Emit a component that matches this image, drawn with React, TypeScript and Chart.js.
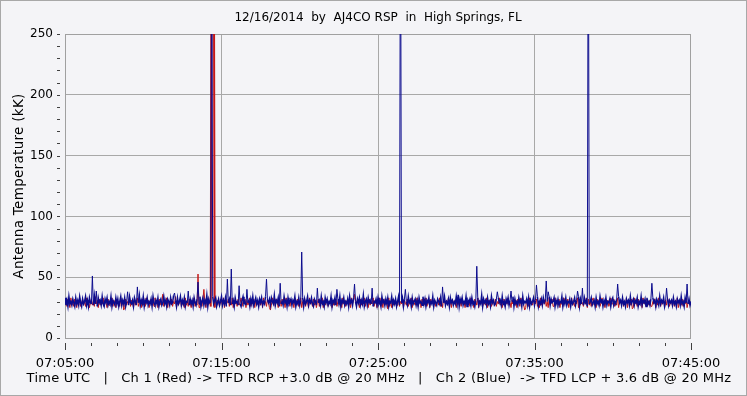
import React, { useEffect, useRef } from 'react';
import { Chart, registerables } from 'chart.js';

Chart.register(...registerables);

const TITLE = '12/16/2014  by  AJ4CO RSP  in  High Springs, FL';
const Y_LABEL = 'Antenna Temperature (kK)';
const X_LABEL = 'Time UTC   |   Ch 1 (Red) -> TFD RCP +3.0 dB @ 20 MHz   |   Ch 2 (Blue)  -> TFD LCP + 3.6 dB @ 20 MHz';

const X_MAX = 2400; // seconds after 07:05:00
const SAMPLE_STEP = 3.75; // seconds between samples
const Y_MAX = 250;
const xTickLabels = ['07:05:00', '07:15:00', '07:25:00', '07:35:00', '07:45:00'];
const yTickLabels = ['0', '50', '100', '150', '200', '250'];

// Ch 2 (Blue) baseline samples
const blueBase = [
  33,27,31,26,34,28,30,27,32,29,26,33,28,31,27,34,29,26,32,28,
  30,34,27,31,26,33,29,28,32,27,35,28,30,26,33,29,31,27,34,28,
  26,32,29,33,27,30,28,34,26,31,29,27,33,28,32,26,30,34,27,31,
  28,33,26,30,32,27,34,29,28,31,26,33,30,27,32,29,35,27,31,28,
  34,26,31,29,33,27,30,28,32,26,34,29,27,31,28,33,26,30,32,27,
  29,34,28,31,26,32,30,27,33,28,29,35,27,31,26,33,28,30,34,27,
  31,28,33,26,30,29,34,27,32,28,31,26,33,29,27,32,30,28,34,26,
  30,33,27,31,28,35,26,32,29,30,27,34,28,31,33,26,29,32,27,30,
  34,27,31,28,33,26,30,29,32,27,35,28,31,26,33,29,30,27,32,28,
  26,31,34,28,30,27,33,29,31,26,32,28,34,27,30,33,28,31,26,32,
  29,33,27,30,28,34,26,31,29,32,27,33,30,28,35,27,31,29,33,26,
  32,28,30,27,34,29,31,26,33,28,30,32,27,31,29,34,26,30,28,33,
  27,31,29,33,26,32,28,30,34,27,31,29,33,28,26,32,30,27,35,29,
  31,27,34,28,30,26,33,29,32,27,30,28,34,26,31,29,33,27,30,32,
  28,34,26,31,29,33,27,30,28,32,26,34,29,31,27,33,28,30,26,32,
  29,33,27,31,28,35,26,30,32,27,33,29,31,28,34,26,30,29,32,27,
  33,28,30,26,34,29,31,27,32,28,33,26,30,29,34,27,31,28,32,26,
  30,34,27,31,29,33,26,32,28,30,27,34,29,31,26,33,28,30,32,27,
  31,26,33,29,30,27,34,28,32,26,31,29,33,27,30,28,34,26,31,29,
  27,32,30,28,33,26,31,29,34,27,30,28,32,26,33,29,31,27,30,28,
  34,28,31,26,32,29,33,27,30,28,34,26,31,29,32,27,33,28,30,26,
  31,29,33,27,30,28,34,26,32,29,31,27,33,28,30,26,34,29,31,27,
  28,32,26,33,29,31,27,34,28,30,26,32,29,33,27,31,28,30,34,26,
  32,28,30,27,33,29,31,26,34,28,30,29,32,27,33,26,31,28,30,33,
  27,31,29,34,26,30,28,32,27,33,29,31,26,30,28,34,27,32,29,30,
  33,26,31,28,32,27,30,29,34,26,31,28,33,27,30,29,32,26,31,28,
  30,33,27,31,29,34,26,32,28,30,27,33,29,31,26,32,28,30,33,27,
  29,31,26,33,28,30,27,34,29,32,26,31,28,33,27,30,29,32,26,31,
  33,27,30,28,32,26,34,29,31,27,33,28,30,26,32,29,31,27,34,28,
  30,32,27,31,29,33,26,30,28,34,27,31,29,32,26,33,28,30,27,32,
  28,33,29,31,26,32,30,27,34,28,31,29,33,26,30,28,32,27,31,29,
  31,27,33,28,30,26,32,29,31,27,34,28,30,26,33,29,31,28,32,27,
  30,
];

// Ch 1 (Red) baseline samples
const redBase = [
  28,31,26,32,29,25,33,27,30,26,32,28,25,31,27,33,26,29,32,27,
  30,26,33,28,31,25,29,32,27,30,26,34,28,31,25,32,27,30,28,33,
  26,31,29,25,32,27,30,28,33,26,31,29,25,32,28,30,26,33,27,31,
  29,25,32,27,30,28,34,26,31,29,25,32,27,30,33,26,29,31,25,32,
  27,30,26,33,28,31,25,29,32,27,30,26,33,28,31,25,30,32,27,29,
  32,26,30,28,33,25,31,27,29,32,26,30,28,34,25,31,27,29,32,26,
  28,31,25,33,27,30,26,32,29,25,31,28,33,26,30,27,32,25,29,31,
  26,32,28,30,25,33,27,31,29,26,32,28,30,25,33,27,31,29,26,32,
  30,27,33,25,31,28,29,32,26,30,27,33,25,31,28,30,26,32,27,29,
  33,26,30,28,32,25,31,27,29,33,26,30,28,32,25,31,27,30,26,32,
  27,31,25,33,28,30,26,32,29,25,31,27,33,28,30,26,32,29,25,31,
  31,26,32,28,30,25,33,27,29,31,26,32,28,30,25,33,27,29,32,26,
  28,33,25,30,27,32,26,31,29,25,33,28,30,26,32,27,31,25,29,32,
  26,30,28,33,25,31,27,32,29,26,30,28,33,25,31,27,29,32,26,30,
  32,27,29,25,33,28,31,26,30,32,27,29,25,33,28,31,26,30,27,32,
  29,25,32,27,30,28,33,26,31,29,25,32,27,30,28,33,26,31,29,25,
  31,28,33,26,30,25,32,27,29,31,28,33,26,30,25,32,27,29,31,26,
  27,32,26,30,28,33,25,31,29,27,32,26,30,28,33,25,31,29,27,30,
  33,26,29,31,25,32,28,30,27,33,26,29,31,25,32,28,30,27,31,26,
  28,31,27,33,26,30,25,32,29,28,31,27,33,26,30,25,32,29,28,31,
  25,32,29,27,31,26,33,28,30,25,32,29,27,31,26,33,28,30,25,32,
  30,27,33,25,31,28,32,26,29,30,27,33,25,31,28,32,26,29,31,27,
  32,26,30,28,33,27,29,25,31,32,26,30,28,33,27,29,25,31,28,32,
  27,31,25,32,29,26,33,28,30,27,31,25,32,29,26,33,28,30,27,31,
  31,28,32,26,30,25,33,27,29,31,28,32,26,30,25,33,27,29,32,26,
  26,33,29,31,27,32,25,30,28,26,33,29,31,27,32,25,30,28,33,27,
  29,26,31,28,33,25,32,27,30,29,26,31,28,33,25,32,27,30,26,31,
  33,27,30,25,32,28,31,26,29,33,27,30,25,32,28,31,26,29,33,28,
  28,32,26,30,27,33,25,31,29,28,32,26,30,27,33,25,31,29,27,32,
  31,25,33,28,30,26,32,27,29,31,25,33,28,30,26,32,27,29,31,26,
  26,30,28,32,25,31,27,33,29,26,30,28,32,25,31,27,33,29,26,30,
  30,27,32,26,31,28,33,25,29,30,27,32,26,31,28,33,25,29,30,27,
  29,
];

// spikes: [sample index, value]
const blueSpikes = [
  [28, 51], [32, 38.6], [64, 38], [74, 42], [112, 37], [126, 38.6], [136, 46], [150, 400],
  [166, 48.5], [170, 56.7], [178, 43], [186, 40], [206, 48.5], [220, 45], [242, 70.7],
  [258, 41], [278, 40], [296, 44.4], [314, 41], [343, 400], [348, 40], [386, 42],
  [402, 35.6], [421, 59], [426, 35], [442, 38], [456, 38.6], [482, 43.6], [492, 46.9],
  [494, 38], [524, 38.6], [529, 41], [535, 400], [565, 44.4], [600, 45], [615, 41],
  [636, 44.4],
];
const redSpikes = [
  [100, 36], [136, 52.6], [142, 40], [150, 400], [151, 400], [152, 400], [296, 36],
  [60, 23], [210, 23], [330, 24], [470, 23], [580, 24],
];

function buildSeries(base: number[], spikes: number[][]) {
  const vals = base.slice();
  spikes.forEach(([i, v]) => { vals[i] = v; });
  return vals.map((y, i) => ({ x: i * SAMPLE_STEP, y }));
}

// thinner strokes for isolated spikes, slightly heavier for the noise floor
const segWidth = (noiseWidth: number, burstWidth: number) => (c: any) => {
  const hi = Math.max(c.p0.parsed.y, c.p1.parsed.y);
  if (hi > 300) return burstWidth;
  return hi > 36 ? 1 : noiseWidth;
};

const decor = {
  id: 'decor',
  beforeDraw(chart: any) {
    const { ctx, width, height } = chart;
    ctx.save();
    ctx.fillStyle = '#f4f4f7';
    ctx.fillRect(0, 0, width, height);
    ctx.strokeStyle = '#a8a8a8';
    ctx.lineWidth = 1;
    ctx.strokeRect(0.5, 0.5, width - 1, height - 1);
    ctx.restore();
  },
  beforeDatasetsDraw(chart: any) {
    const { ctx, chartArea: a } = chart;
    ctx.save();
    ctx.strokeStyle = '#a0a0a0';
    ctx.lineWidth = 1;
    ctx.strokeRect(a.left + 0.5, a.top + 0.5, a.right - a.left - 1, a.bottom - a.top);
    ctx.restore();
  },
  afterDraw(chart: any) {
    const { ctx, chartArea: a, scales } = chart;
    const xs = scales.x;
    const ys = scales.y;
    ctx.save();
    ctx.strokeStyle = '#404040';
    ctx.lineWidth = 1;
    ctx.beginPath();
    for (let v = 0; v <= Y_MAX; v += 10) {
      const y = Math.round(ys.getPixelForValue(v)) + 0.5;
      ctx.moveTo(a.left - 8, y);
      ctx.lineTo(a.left - 5, y);
    }
    for (let t = 0; t <= X_MAX; t += 100) {
      const x = Math.round(xs.getPixelForValue(t)) + 0.5;
      const major = t % 600 === 0;
      ctx.moveTo(x, a.bottom + 5);
      ctx.lineTo(x, a.bottom + (major ? 12 : 8));
    }
    ctx.stroke();

    ctx.fillStyle = '#000';
    ctx.textAlign = 'center';
    ctx.textBaseline = 'middle';
    ctx.font = '12px "DejaVu Sans"';
    ctx.fillText(TITLE, (a.left + a.right) / 2, 18);
    ctx.font = '13px "DejaVu Sans"';
    (ctx as any).letterSpacing = '0.25px';
    ctx.fillText(X_LABEL, 379, 379);
    ctx.font = '13.5px "DejaVu Sans"';
    (ctx as any).letterSpacing = '0.3px';
    ctx.translate(19, (a.top + a.bottom) / 2);
    ctx.rotate(-Math.PI / 2);
    ctx.fillText(Y_LABEL, 0, 0);
    (ctx as any).letterSpacing = '0px';
    ctx.restore();
  },
};

export default function App() {
  const ref = useRef<HTMLCanvasElement>(null);
  useEffect(() => {
    if (!ref.current) return;
    Chart.defaults.font.family = '"DejaVu Sans"';
    Chart.defaults.font.size = 12;
    const chart = new Chart(ref.current, {
      type: 'line',
      data: {
        datasets: [
          {
            label: 'Ch 2 (Blue)',
            data: buildSeries(blueBase, blueSpikes),
            borderColor: '#0c0c8e',
            borderWidth: 1.5,
            segment: { borderWidth: segWidth(1.5, 1) } as any,
            pointRadius: 0,
            tension: 0,
          },
          {
            label: 'Ch 1 (Red)',
            data: buildSeries(redBase, redSpikes),
            borderColor: '#c41818',
            borderWidth: 1,
            segment: { borderWidth: segWidth(1, 2) } as any,
            pointRadius: 0,
            tension: 0,
          },
        ],
      },
      options: {
        animation: false,
        responsive: false,
        devicePixelRatio: 1,
        parsing: false as any,
        normalized: true,
        layout: { padding: { top: 34, right: 56, bottom: 18, left: 0 } },
        plugins: {
          legend: { display: false },
          title: { display: false },
          tooltip: { enabled: false },
        },
        scales: {
          x: {
            type: 'linear',
            min: 0,
            max: X_MAX,
            afterFit: (s: any) => { s.height = 40; },
            border: { display: false },
            grid: {
              drawTicks: false,
              color: (c: any) => {
                const v = c.tick ? c.tick.value : -1;
                return v > 0 && v < X_MAX && v % 600 === 0 ? '#a8a8a8' : 'rgba(0,0,0,0)';
              },
            },
            ticks: {
              stepSize: 100,
              autoSkip: false,
              maxRotation: 0,
              padding: 18,
              color: '#000',
              font: { size: 13 },
              callback: (v: any) => (Number(v) % 600 === 0 ? xTickLabels[Number(v) / 600] : ''),
            },
          },
          y: {
            type: 'linear',
            min: 0,
            max: Y_MAX,
            afterFit: (s: any) => { s.width = 65; },
            border: { display: false },
            grid: {
              drawTicks: false,
              color: (c: any) => {
                const v = c.tick ? c.tick.value : -1;
                return v > 0 && v < Y_MAX && v % 50 === 0 ? '#a8a8a8' : 'rgba(0,0,0,0)';
              },
            },
            ticks: {
              stepSize: 10,
              autoSkip: false,
              padding: 12,
              color: '#000',
              font: { size: 12 },
              callback: (v: any) => (Number(v) % 50 === 0 ? yTickLabels[Number(v) / 50] : ''),
            },
          },
        },
      },
      plugins: [decor],
    });
    return () => chart.destroy();
  }, []);
  return (
    <div style={{ position: 'absolute', left: 0, top: 0, width: 747, height: 396 }}>
      <canvas ref={ref} width={747} height={396} />
    </div>
  );
}
